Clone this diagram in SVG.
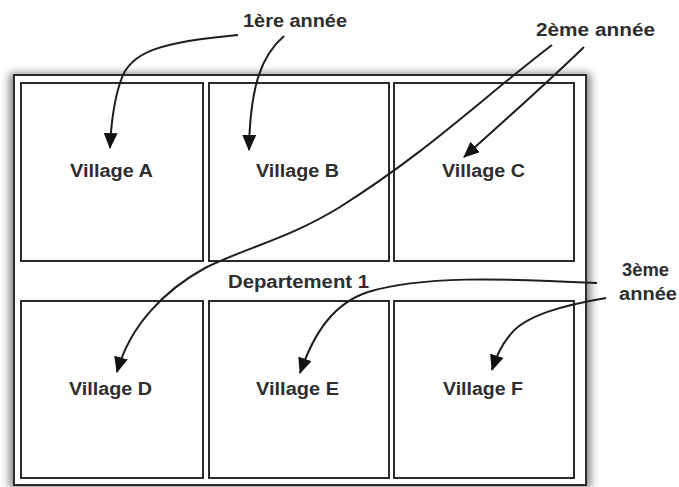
<svg xmlns="http://www.w3.org/2000/svg" width="679" height="487" viewBox="0 0 679 487">
<style>
.box{fill:#fff;stroke:#2b2b2b;stroke-width:2}
.lbl{font-family:"Liberation Sans",Arial,sans-serif;font-size:18px;font-weight:bold;fill:#2e2e2e}
.c{fill:none;stroke:#1e1e1e;stroke-width:2}
</style>
<defs>
<filter id="sh" x="-10%" y="-10%" width="120%" height="120%"><feGaussianBlur stdDeviation="4"/></filter>
<marker id="ah" viewBox="0 0 16 14" refX="15" refY="7" markerWidth="16" markerHeight="14" markerUnits="userSpaceOnUse" orient="auto"><path d="M0,0 L16,7 L0,14 Z" fill="#111"/></marker>
</defs>
<rect width="679" height="487" fill="#fff"/>
<g id="departement">
<rect x="9" y="73" width="582" height="416" fill="#8a8a8a" filter="url(#sh)"/>
<rect class="box" x="14" y="75" width="572" height="410"/>
<text class="lbl" x="228" y="288" textLength="141" lengthAdjust="spacingAndGlyphs">Departement 1</text>
</g>
<g id="villageA"><rect class="box" x="21" y="83" width="182" height="178"/><text class="lbl" x="70" y="177" textLength="83" lengthAdjust="spacingAndGlyphs">Village A</text></g>
<g id="villageB"><rect class="box" x="209" y="83" width="180" height="178"/><text class="lbl" x="256" y="177" textLength="83" lengthAdjust="spacingAndGlyphs">Village B</text></g>
<g id="villageC"><rect class="box" x="394" y="83" width="180" height="178"/><text class="lbl" x="442" y="177" textLength="83" lengthAdjust="spacingAndGlyphs">Village C</text></g>
<g id="villageD"><rect class="box" x="21" y="301" width="182" height="177"/><text class="lbl" x="69" y="395" textLength="83" lengthAdjust="spacingAndGlyphs">Village D</text></g>
<g id="villageE"><rect class="box" x="209" y="301" width="180" height="177"/><text class="lbl" x="256" y="395" textLength="83" lengthAdjust="spacingAndGlyphs">Village E</text></g>
<g id="villageF"><rect class="box" x="394" y="301" width="180" height="177"/><text class="lbl" x="443" y="395" textLength="80" lengthAdjust="spacingAndGlyphs">Village F</text></g>
<g id="labels">
<text class="lbl" x="243" y="27" textLength="104" lengthAdjust="spacingAndGlyphs">1ère année</text>
<text class="lbl" x="536" y="36" textLength="119" lengthAdjust="spacingAndGlyphs">2ème année</text>
<text class="lbl" x="622" y="276" textLength="47" lengthAdjust="spacingAndGlyphs">3ème</text>
<text class="lbl" x="619" y="300" textLength="58" lengthAdjust="spacingAndGlyphs">année</text>
</g>
<g id="connectors">
<path class="c" marker-end="url(#ah)" d="M238,35 C160,42 130,52 121,80 C114,100 111,125 110,148"/>
<path class="c" marker-end="url(#ah)" d="M284,36 C262,55 250,85 249,150"/>
<path class="c" marker-end="url(#ah)" d="M552,45 C480,100 430,150 340,207 C290,238 245,248 205,268 C165,290 130,325 117,372"/>
<path class="c" marker-end="url(#ah)" d="M584,47 C545,85 505,120 464,157"/>
<path class="c" marker-end="url(#ah)" d="M597,283 C500,278 420,276 368,292 C335,303 315,330 300,373"/>
<path class="c" marker-end="url(#ah)" d="M606,298 C565,305 525,315 510,335 C500,347 496,358 492,370"/>
</g>
</svg>
